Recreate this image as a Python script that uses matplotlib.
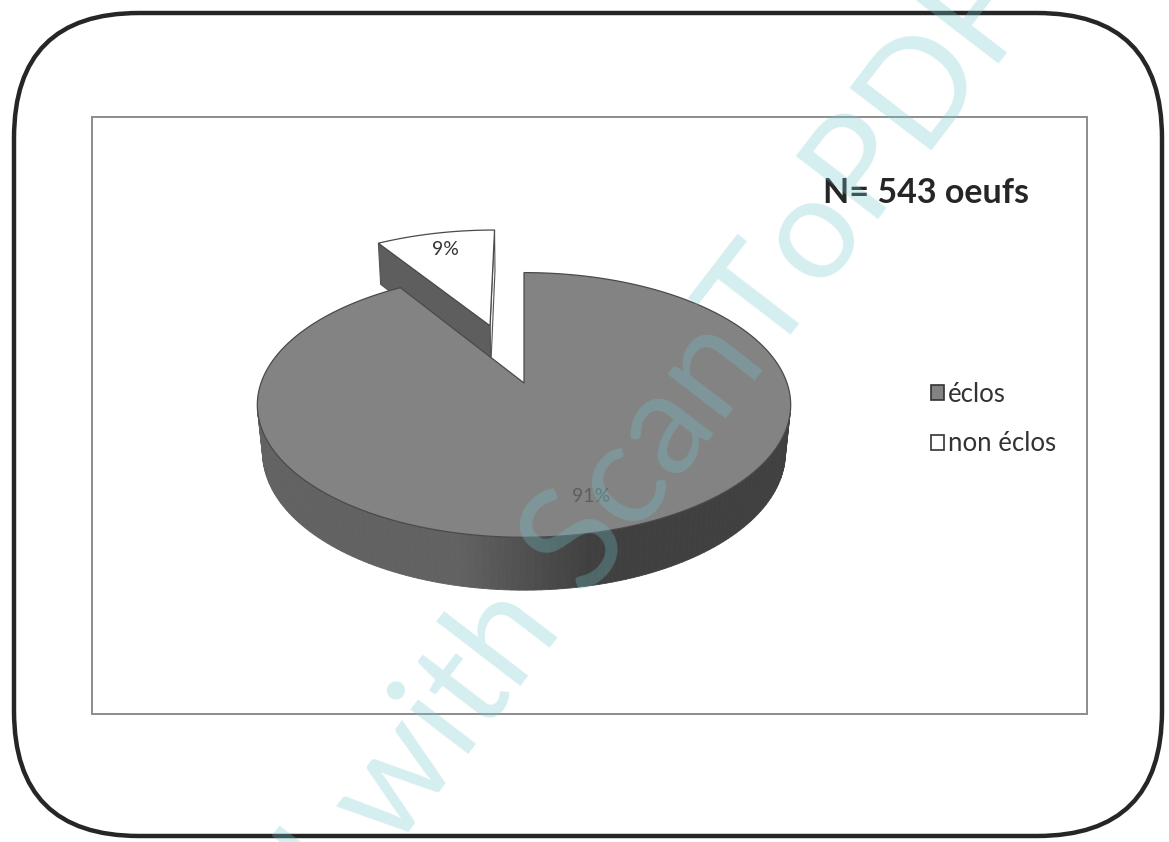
import numpy as np
import matplotlib.pyplot as plt
from matplotlib.patches import Polygon, FancyBboxPatch, Rectangle, Patch

# Données : taux d'éclosion
labels = ["éclos", "non éclos"]
percents = [91, 9]
explode = [0.0, 0.5]
top_colors = ["#838383", "#ffffff"]
title = "N= 543 oeufs"

# Vue 3D (perspective simple)
elev = np.radians(29.3)
cam_dist = 5.26
thickness = 0.21
radius_px = 263
center_px = (524, 383)

ce, se = np.cos(elev), np.sin(elev)
cam = np.array([0.0, -cam_dist * ce, cam_dist * se])


def project(X, Y, Z):
    dx, dy, dz = X - cam[0], Y - cam[1], Z - cam[2]
    v = dy * se + dz * ce
    w = dy * ce - dz * se
    f = radius_px * cam_dist
    return center_px[0] + f * dx / w, center_px[1] - f * v / w


def visible(normal, point):
    return np.dot(normal, cam - np.asarray(point)) > 1e-9


def wall_gray(deg):
    t = np.clip((deg % 360 - 258) / 24, 0, 1)
    g = 0.385 - 0.135 * t
    return (g, g, g)


fig = plt.figure(figsize=(11.69, 8.42), dpi=100)
ax = fig.add_axes([0, 0, 1, 1])
ax.set_xlim(0, 1169)
ax.set_ylim(842, 0)
ax.axis("off")

# cadre arrondi + zone du graphique
ax.add_patch(FancyBboxPatch((14, 13), 1148, 823,
                            boxstyle="round,pad=0,rounding_size=125",
                            fill=False, ec="#262626", lw=3.2, zorder=1))
ax.add_patch(Rectangle((92, 117), 995, 597, fill=False, ec="#8c8c8c",
                       lw=1.4, zorder=1))


def draw_slice(lo, hi, off, top_color, lo_face, hi_face, z):
    ox, oy = off
    th = np.radians(np.linspace(lo, hi, 240))
    h = -thickness
    # paroi extérieure
    for t0, t1 in zip(th[:-1], th[1:]):
        tm = (t0 + t1) / 2
        n = np.array([np.cos(tm), np.sin(tm), 0.0])
        if visible(n, [ox + n[0], oy + n[1], h / 2]):
            quad = [project(ox + np.cos(t0), oy + np.sin(t0), 0),
                    project(ox + np.cos(t1), oy + np.sin(t1), 0),
                    project(ox + np.cos(t1), oy + np.sin(t1), h),
                    project(ox + np.cos(t0), oy + np.sin(t0), h)]
            c = wall_gray(np.degrees(tm))
            ax.add_patch(Polygon(quad, closed=True, fc=c, ec=c, lw=0.6, zorder=z))
    # faces radiales
    for ang, sign, col in [(lo, -1, lo_face), (hi, 1, hi_face)]:
        a = np.radians(ang)
        n = np.array([-np.sin(a), np.cos(a), 0.0]) * sign
        mid = [ox + 0.5 * np.cos(a), oy + 0.5 * np.sin(a), h / 2]
        if visible(n, mid):
            quad = [project(ox, oy, 0),
                    project(ox + np.cos(a), oy + np.sin(a), 0),
                    project(ox + np.cos(a), oy + np.sin(a), h),
                    project(ox, oy, h)]
            ax.add_patch(Polygon(quad, closed=True, fc=col, ec="#555555",
                                 lw=0.8, zorder=z + 0.1))
    # dessus
    pts = [project(ox, oy, 0)] + [project(ox + np.cos(t), oy + np.sin(t), 0) for t in th]
    ax.add_patch(Polygon(pts, closed=True, fc=top_color, ec="#4a4a4a",
                         lw=0.9, zorder=z + 0.2))


# angles : départ à midi, sens horaire
cum = np.concatenate([[0], np.cumsum(percents)]) / 100
starts = 90 - 360 * cum[:-1]
ends = 90 - 360 * cum[1:]
mids = (starts + ends) / 2
offsets = [(e * np.cos(np.radians(m)), e * np.sin(np.radians(m)))
           for e, m in zip(explode, mids)]

# la part détachée (à l'arrière) d'abord, puis la grande part
draw_slice(ends[1], starts[1], offsets[1], top_colors[1], "#f2f2f2", "#5e5e5e", 2)
draw_slice(ends[0], starts[0], offsets[0], top_colors[0], "#4a4a4a", "#4a4a4a", 3)

# étiquettes de pourcentage
label_colors = ["#5e5e5e", "#333333"]
for p, m, off, lc in zip(percents, mids, offsets, label_colors):
    a = np.radians(m)
    x, y = project(off[0] + 0.8 * np.cos(a), off[1] + 0.8 * np.sin(a), 0)
    ax.text(x, y, f"{p}%", ha="center", va="center", fontsize=14,
            family="Lato", color=lc, zorder=5)

ax.text(823, 193, title, ha="left", va="center", fontsize=24.5,
        fontweight="bold", family="Lato", color="#262626", zorder=5)

handles = [Patch(fc=c, ec="#333333", lw=1.2) for c in top_colors]
leg = fig.legend(handles, labels, loc="upper left",
                 bbox_to_anchor=(931 / 1169, 1 - 382 / 842),
                 frameon=False, borderpad=0, borderaxespad=0,
                 handlelength=0.52, handleheight=0.52, handletextpad=0.15,
                 labelspacing=0.95, prop={"family": "Lato", "size": 18.5})
for t in leg.get_texts():
    t.set_color("#333333")

# filigrane du scanner
ax.text(510, 634, "Scanned with ScanToPDF", rotation=52.5, ha="center",
        va="center", fontsize=104, family="Lato",
        color=(115 / 255, 198 / 255, 205 / 255), alpha=0.3, zorder=6)

fig.savefig("out.png", dpi=100)
